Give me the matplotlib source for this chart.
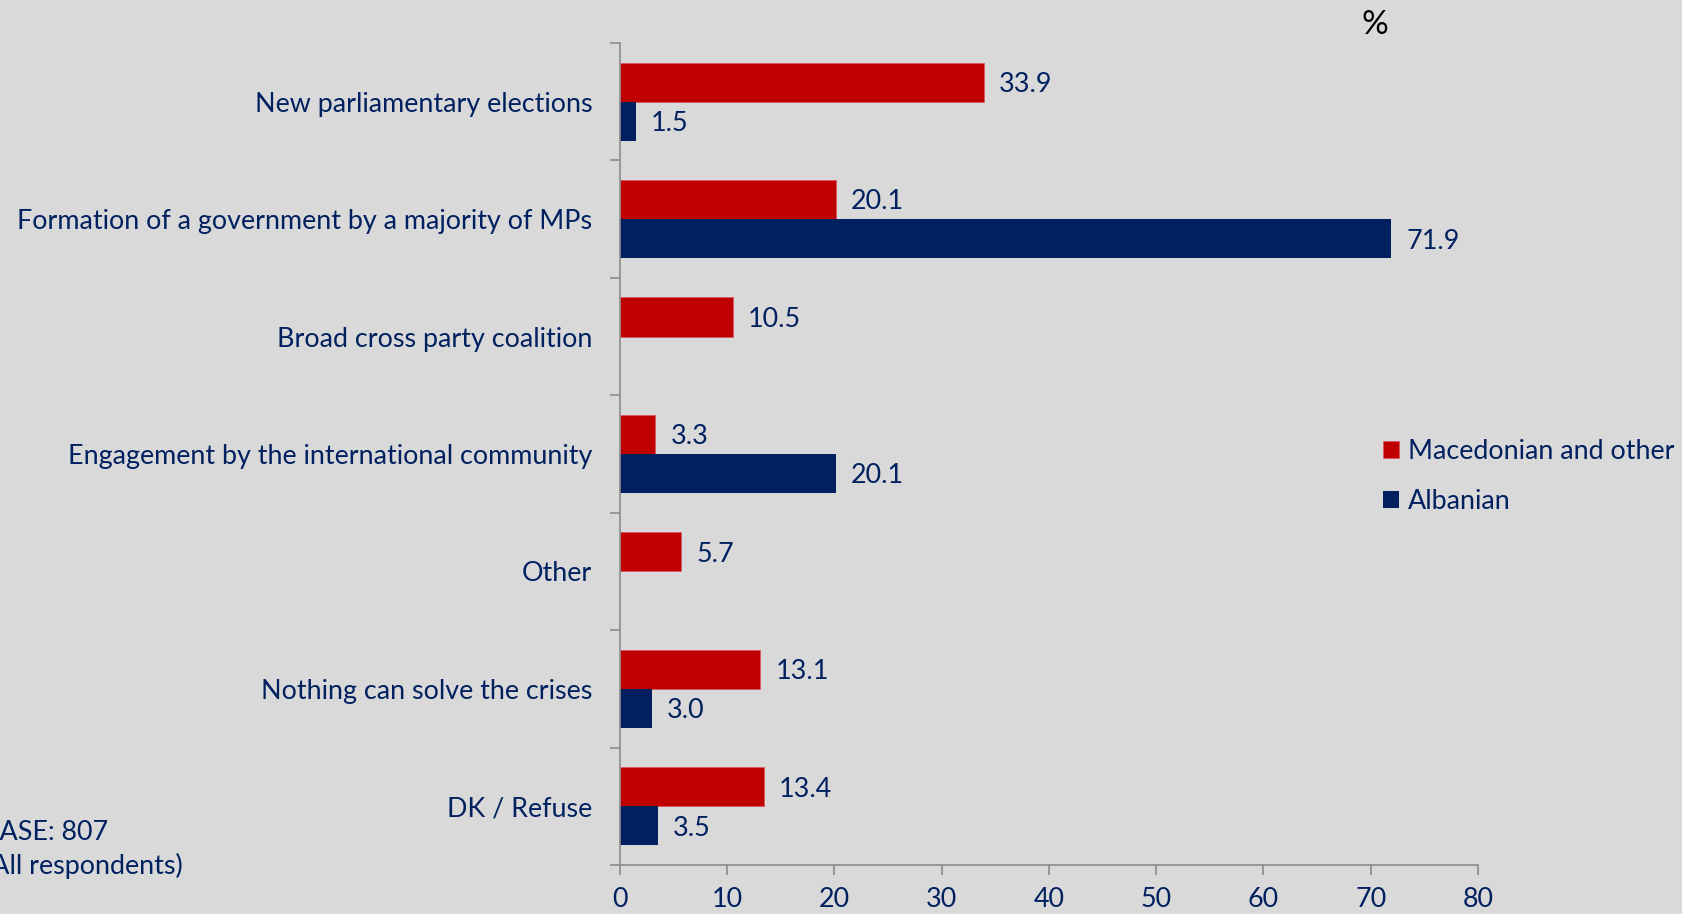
import numpy as np
import matplotlib
matplotlib.use("Agg")
import matplotlib.pyplot as plt

categories = [
    "New parliamentary elections",
    "Formation of a government by a majority of MPs",
    "Broad cross party coalition",
    "Engagement by the international community",
    "Other",
    "Nothing can solve the crises",
    "DK / Refuse",
]
macedonian = [33.9, 20.1, 10.5, 3.3, 5.7, 13.1, 13.4]
albanian = [1.5, 71.9, None, 20.1, None, 3.0, 3.5]
series_names = ["Macedonian and other", "Albanian"]
x_ticks = [0, 10, 20, 30, 40, 50, 60, 70, 80]

RED = "#C00000"
NAVY = "#002060"
BG = "#D9D9D9"
SPINE = "#8C8C8C"
FONT = ["Lato", "DejaVu Sans"]
FS = 19.4

plt.rcParams["font.family"] = FONT

W, H = 1683, 914
fig = plt.figure(figsize=(W / 100, H / 100), dpi=100, facecolor=BG)
ax = fig.add_axes([620 / W, 1 - 865 / H, (1478 - 620) / W, (865 - 43) / H], facecolor=BG)

n = len(categories)
pos = np.arange(n)
bh = 1 / 3

for i, v in enumerate(macedonian):
    ax.barh(pos[i] - bh / 2, v, height=bh, color=RED, edgecolor="#D9595F", linewidth=0.6,
            label=series_names[0] if i == 0 else None)
    ax.text(v + 1.4, pos[i] - bh / 2 + 0.02, f"{v:.1f}", va="center", ha="left", color=NAVY, fontsize=FS)
for i, v in enumerate(albanian):
    if v is None:
        continue
    ax.barh(pos[i] + bh / 2, v, height=bh, color=NAVY, linewidth=0,
            label=series_names[1] if i == 0 else None)
    ax.text(v + 1.4, pos[i] + bh / 2 + 0.02, f"{v:.1f}", va="center", ha="left", color=NAVY, fontsize=FS)

ax.set_xlim(0, 80)
ax.set_ylim(n - 0.5, -0.5)
ax.set_xticks(x_ticks)
ax.set_xticklabels([str(t) for t in x_ticks], color=NAVY, fontsize=FS)

# category labels between boundary ticks
ax.set_yticks(np.arange(n + 1) - 0.5)
ax.set_yticklabels([])
ax.set_yticks(pos, minor=True)
ax.set_yticklabels(categories, minor=True, color=NAVY, fontsize=FS)
ax.tick_params(axis="y", which="minor", length=0, pad=20)
ax.tick_params(axis="y", which="major", length=7, width=1.2, color=SPINE, direction="out")
ax.tick_params(axis="x", length=7, width=1.2, color=SPINE, direction="out", pad=9)

for s in ["top", "right"]:
    ax.spines[s].set_visible(False)
for s in ["left", "bottom"]:
    ax.spines[s].set_color(SPINE)
    ax.spines[s].set_linewidth(1.2)

leg = ax.legend(loc="upper left", bbox_to_anchor=(1372 / W, 1 - 428 / H), bbox_transform=fig.transFigure,
                frameon=False, fontsize=FS, handlelength=0.6, handleheight=0.6, handletextpad=0.35,
                labelspacing=0.95, borderaxespad=0)
for t in leg.get_texts():
    t.set_color(NAVY)

fig.text(1375 / W, 1 - 25 / H, "%", ha="center", va="center", color="black", fontsize=24)
fig.text(-18 / W, 1 - 832 / H, "BASE: 807", ha="left", va="center", color=NAVY, fontsize=FS)
fig.text(-16 / W, 1 - 866 / H, "(All respondents)", ha="left", va="center", color=NAVY, fontsize=FS)

fig.savefig("out.png", dpi=100, facecolor=BG)
